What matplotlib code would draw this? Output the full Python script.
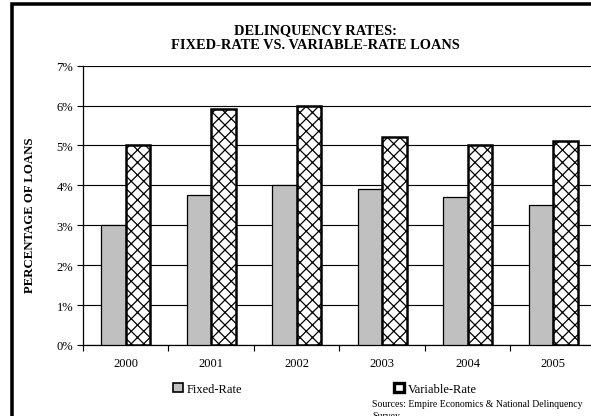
import numpy as np
import matplotlib.pyplot as plt
from matplotlib.patches import Rectangle
from matplotlib.ticker import FixedLocator, PercentFormatter

years = ['2000', '2001', '2002', '2003', '2004', '2005']
fixed_rate = [3.0, 3.75, 4.0, 3.9, 3.7, 3.5]
variable_rate = [5.0, 5.9, 6.0, 5.2, 5.0, 5.1]

plt.rcParams['font.family'] = ['Liberation Serif', 'DejaVu Serif']
plt.rcParams['hatch.linewidth'] = 0.6
plt.rcParams['hatch.color'] = '#222222'

# drawn at 150 dpi so the cross-hatch comes out a bit finer
fig = plt.figure(figsize=(591 / 150, 417 / 150), dpi=150)
ax = fig.add_axes([0.1404, 0.1703, 0.868, 0.670])

# outer frame of the chart area, runs off the right and bottom edges
fig.patches.append(Rectangle((12 / 591, -0.05), 1.2, 1 - 5 / 417 + 0.05,
                             transform=fig.transFigure, fill=False,
                             edgecolor='black', linewidth=1.7))

x = np.arange(len(years))
w = 0.288
ax.bar(x - w / 2, fixed_rate, w, color='#c0c0c0', edgecolor='black',
       linewidth=0.6, zorder=3)
ax.bar(x + w / 2, variable_rate, w, color='white', edgecolor='black',
       hatch='xxxx', linewidth=1.2, zorder=3)

ax.set_xlim(-0.5, 5.5)
ax.set_ylim(0, 7)
ax.set_yticks(range(0, 8))
ax.yaxis.set_major_formatter(PercentFormatter(decimals=0))
ax.yaxis.grid(True, color='black', linewidth=0.55, zorder=0)
ax.set_xticks(x)
ax.set_xticklabels(years)
ax.xaxis.set_minor_locator(FixedLocator(np.arange(-0.5, 5.6, 1)))
ax.tick_params(axis='x', which='major', length=0, pad=6, labelsize=6)
ax.tick_params(axis='x', which='minor', length=2.7, width=0.55, direction='out')
ax.tick_params(axis='y', length=2.7, width=0.55, labelsize=6, pad=2)

for side in ['top', 'right']:
    ax.spines[side].set_visible(False)
ax.spines['left'].set_linewidth(0.6)
ax.spines['bottom'].set_linewidth(0.6)

ax.set_ylabel('PERCENTAGE OF LOANS', fontsize=6.1, fontweight='bold', labelpad=10)
ax.yaxis.label.set_y(0.468)

fig.text(315 / 591, 1 - 38 / 417, 'DELINQUENCY RATES:\nFIXED-RATE VS. VARIABLE-RATE LOANS',
         ha='center', va='center', fontsize=6.9, fontweight='bold', linespacing=1.15)

handles = [Rectangle((0, 0), 1, 1, facecolor='#c0c0c0', edgecolor='black', linewidth=0.8),
           Rectangle((0, 0), 1, 1, facecolor='white', edgecolor='black', linewidth=1.6)]
ax.legend(handles, ['Fixed-Rate', 'Variable-Rate'], loc='upper left',
          bbox_to_anchor=(167 / 591, 1 - 378 / 417), bbox_transform=fig.transFigure,
          ncol=2, frameon=False, fontsize=6, handlelength=0.75, handleheight=0.75,
          handletextpad=0.3, columnspacing=12.2, borderpad=0)

fig.text(372 / 591, 1 - 400 / 417,
         'Sources: Empire Economics & National Delinquency\nSurvey',
         ha='left', va='top', fontsize=4.7, linespacing=1.5)

fig.savefig('out.png', dpi=150)
